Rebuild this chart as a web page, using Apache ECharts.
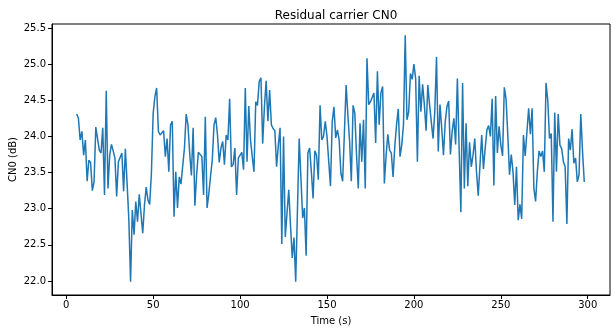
<!DOCTYPE html>
<html>
<head>
<meta charset="utf-8">
<script src="https://cdn.jsdelivr.net/npm/echarts@6/dist/echarts.min.js"></script>
<style>
  html, body { margin: 0; padding: 0; background: #fff; }
  #chart { width: 615px; height: 333px; }
</style>
</head>
<body>
<div id="chart"></div>
<script>
// Residual carrier CN0, one sample per second starting at t = 6 s
const startTime = 6;
const cn0 = [
  24.31, 24.25, 23.95, 24.07, 23.74, 23.95, 23.38, 23.67, 23.64, 23.25,
  23.37, 24.13, 23.97, 23.81, 23.77, 24.12, 23.19, 24.63, 23.28, 23.74,
  23.89, 23.80, 23.70, 23.17, 23.65, 23.66, 23.77, 23.24, 23.83, 23.35,
  22.85, 21.99, 22.98, 22.64, 23.10, 22.82, 23.20, 23.18, 22.66, 23.05,
  23.30, 23.12, 23.06, 23.50, 24.32, 24.55, 24.67, 24.07, 24.02, 24.00,
  24.08, 23.72, 23.97, 23.51, 24.16, 24.21, 22.89, 23.51, 23.01, 23.44,
  23.34, 23.36, 23.84, 24.31, 24.16, 23.77, 23.46, 24.12, 23.04, 23.47,
  23.78, 23.79, 23.72, 23.19, 24.27, 23.01, 23.20, 23.45, 23.67, 24.16,
  24.26, 24.02, 23.64, 23.84, 23.93, 23.61, 24.02, 23.95, 24.52, 23.58,
  23.61, 23.84, 23.19, 23.70, 23.74, 23.78, 23.54, 24.67, 23.65, 24.42,
  23.95, 23.72, 23.51, 24.48, 24.43, 24.76, 24.81, 23.90, 24.41, 24.77,
  24.21, 24.64, 24.16, 24.11, 24.08, 23.58, 23.88, 24.12, 22.51, 24.00,
  22.61, 22.94, 23.26, 22.77, 22.32, 22.60, 21.99, 22.98, 23.97, 23.42,
  22.87, 23.01, 22.35, 23.77, 23.84, 23.51, 23.14, 23.80, 23.74, 23.40,
  24.43, 23.95, 24.00, 24.21, 24.00, 23.65, 23.31, 24.20, 24.41, 23.98,
  24.09, 23.95, 23.49, 23.38, 24.04, 24.71, 24.30, 23.93, 23.38, 24.43,
  24.32, 23.74, 23.28, 24.18, 23.65, 24.23, 23.28, 25.08, 24.44, 24.48,
  24.47, 24.60, 23.91, 24.90, 24.16, 24.60, 24.69, 23.35, 23.74, 24.03,
  23.81, 23.77, 23.44, 23.86, 24.16, 24.38, 23.72, 23.88, 24.16, 25.40,
  24.23, 24.34, 24.87, 24.79, 25.00, 24.80, 23.65, 24.84, 24.34, 24.72,
  24.44, 24.08, 24.71, 24.44, 24.20, 23.97, 24.34, 25.10, 23.79, 24.44,
  24.11, 23.74, 24.20, 24.41, 24.49, 23.75, 24.07, 24.25, 23.89, 24.80,
  23.84, 22.95, 24.74, 23.28, 24.18, 23.31, 23.92, 23.58, 23.74, 23.97,
  23.51, 23.18, 23.60, 24.02, 23.55, 23.84, 24.09, 24.15, 24.00, 24.52,
  23.32, 24.56, 23.77, 24.14, 23.88, 23.73, 24.68, 24.52, 24.02, 23.47,
  23.75, 23.51, 23.05, 23.58, 22.84, 23.06, 22.86, 24.02, 23.73, 23.75,
  24.39, 24.03, 24.39, 23.28, 23.10, 23.51, 23.80, 23.72, 23.80, 23.51,
  24.74, 24.50, 23.97, 24.04, 22.82, 24.33, 23.51, 24.31, 23.88, 23.83,
  23.65, 23.58, 22.79, 23.97, 23.81, 24.10, 23.63, 23.70, 23.37, 23.47,
  24.31, 23.79, 23.37
];

const xTicks = [0, 50, 100, 150, 200, 250, 300];
const yTicks = [22.0, 22.5, 23.0, 23.5, 24.0, 24.5, 25.0, 25.5];

const points = cn0.map((v, i) => [startTime + i, v]);

const font = 'DejaVu Sans';
const ink = '#000';

const chart = echarts.init(document.getElementById('chart'), null, { renderer: 'canvas' });
chart.setOption({
  animation: false,
  backgroundColor: '#fff',
  title: {
    text: 'Residual carrier CN0',
    left: 331,
    top: 5,
    textAlign: 'center',
    textStyle: { fontFamily: font, fontSize: 12, fontWeight: 'normal', color: ink }
  },
  grid: {
    left: 52, right: 5, top: 24, bottom: 38,
    containLabel: false,
    outerBoundsMode: 'none',
    show: true, borderColor: ink, borderWidth: 1, backgroundColor: 'transparent'
  },
  xAxis: {
    type: 'value',
    min: -8.2,
    max: 312.8,
    name: 'Time (s)',
    nameLocation: 'middle',
    nameGap: 21,
    nameMoveOverlap: false,
    nameTextStyle: { fontFamily: font, fontSize: 10, color: ink },
    axisLine: { show: true, onZero: false, lineStyle: { color: ink, width: 1 } },
    axisTick: { show: true, customValues: xTicks, length: 4, lineStyle: { color: ink } },
    axisLabel: {
      customValues: xTicks, fontFamily: font, fontSize: 10, color: ink, margin: 5
    },
    splitLine: { show: false }
  },
  yAxis: {
    type: 'value',
    min: 21.806,
    max: 25.555,
    name: 'CN0 (dB)',
    nameLocation: 'middle',
    nameRotate: 90,
    nameGap: 34,
    nameMoveOverlap: false,
    nameTextStyle: { fontFamily: font, fontSize: 10, color: ink },
    axisLine: { show: true, onZero: false, lineStyle: { color: ink, width: 1 } },
    axisTick: { show: true, customValues: yTicks, length: 4, lineStyle: { color: ink } },
    axisLabel: {
      customValues: yTicks, fontFamily: font, fontSize: 10, color: ink, margin: 6,
      formatter: v => v.toFixed(1)
    },
    splitLine: { show: false }
  },
  series: [{
    type: 'line',
    data: points,
    showSymbol: false,
    symbol: 'none',
    lineStyle: { color: '#1f77b4', width: 1.5 },
    itemStyle: { color: '#1f77b4' }
  }]
});
</script>
</body>
</html>
